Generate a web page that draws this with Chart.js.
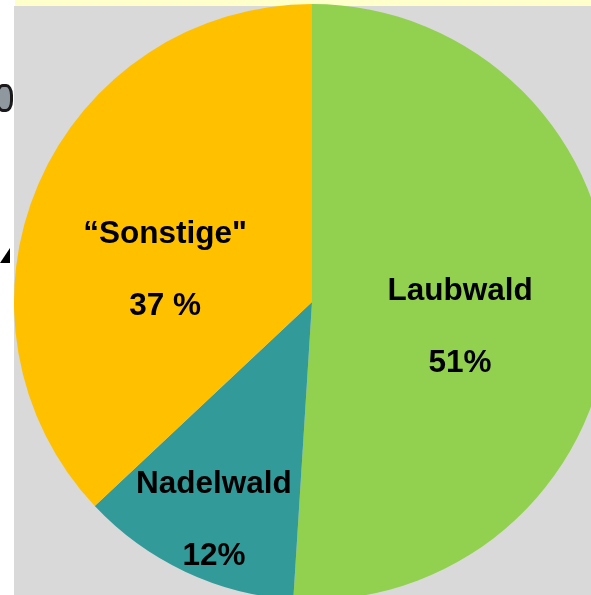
<!DOCTYPE html>
<html>
<head>
<meta charset="utf-8">
<script src="https://cdn.jsdelivr.net/npm/chart.js@4.4.1/dist/chart.umd.min.js"></script>
<style>
  html, body { margin: 0; padding: 0; background: #fff; }
  #frame { position: relative; width: 591px; height: 595px; overflow: hidden; background: #fff; }
  #topband { position: absolute; left: 15px; top: 0; width: 576px; height: 6px; background: #ffffcc; }
  #panel { position: absolute; left: 14px; top: 6px; width: 577px; height: 589px; background: #d9d9d9; }
  #pieCanvas { position: absolute; left: 14px; top: 4px; }
  /* Reste vom Rand des Originalbilds */
  #blob { position: absolute; left: -4px; top: 84px; width: 11px; height: 22px; border: 3px solid #1a1a1a; border-radius: 40%; background: #8f989e; }
  #tri { position: absolute; left: 0; top: 248px; width: 0; height: 0; border-left: 10px solid transparent; border-bottom: 15px solid #000; }
</style>
</head>
<body>
<div id="frame">
  <div id="topband"></div>
  <div id="panel"></div>
  <div id="blob"></div>
  <div id="tri"></div>
  <canvas id="pieCanvas" width="596" height="596"></canvas>
</div>
<script>
// Anteile der Waldflächen
const categories = ['Laubwald', 'Nadelwald', '\u201cSonstige"'];
const shares = [51, 12, 37];
const shareLabels = ['51%', '12%', '37 %'];
const sliceColors = ['#92d050', '#339a9a', '#ffc000'];

// Lage der Beschriftung relativ zur Kreismitte (in Radien), erste Grundlinie
const labelSpots = [
    { dx: 0.497, dy: -0.007 },
    { dx: -0.329, dy: 0.641 },
    { dx: -0.493, dy: -0.198 }
];

const sliceLabels = {
    id: 'sliceLabels',
    afterDatasetsDraw(chart) {
        const ctx = chart.ctx;
        const arcs = chart.getDatasetMeta(0).data;
        ctx.save();
        ctx.fillStyle = '#000';
        ctx.textAlign = 'center';
        ctx.textBaseline = 'alphabetic';
        ctx.font = 'bold 31.5px "Liberation Sans", Arial, sans-serif';
        arcs.forEach((arc, i) => {
            const spot = labelSpots[i];
            const x = arc.x + spot.dx * arc.outerRadius;
            const y = arc.y + spot.dy * arc.outerRadius;
            ctx.fillText(categories[i], x, y);
            ctx.fillText(shareLabels[i], x, y + 72);
        });
        ctx.restore();
    }
};

const ctx = document.getElementById('pieCanvas').getContext('2d');
new Chart(ctx, {
    type: 'pie',
    data: {
        labels: categories,
        datasets: [{
            data: shares,
            backgroundColor: sliceColors,
            borderWidth: 0
        }]
    },
    options: {
        responsive: false,
        animation: false,
        layout: { padding: 0 },
        plugins: {
            legend: { display: false },
            tooltip: { enabled: false }
        }
    },
    plugins: [sliceLabels]
});
</script>
</body>
</html>
